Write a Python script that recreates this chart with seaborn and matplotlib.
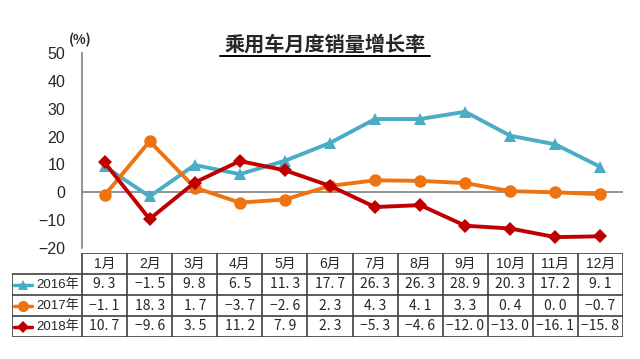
import numpy as np
import pandas as pd
import matplotlib
matplotlib.use("Agg")
import matplotlib.pyplot as plt
import seaborn as sns
from matplotlib.lines import Line2D

months = ["1月", "2月", "3月", "4月", "5月", "6月", "7月", "8月", "9月", "10月", "11月", "12月"]
years = ["2016年", "2017年", "2018年"]
v2016 = [9.3, -1.5, 9.8, 6.5, 11.3, 17.7, 26.3, 26.3, 28.9, 20.3, 17.2, 9.1]
v2017 = [-1.1, 18.3, 1.7, -3.7, -2.6, 2.3, 4.3, 4.1, 3.3, 0.4, 0.0, -0.7]
v2018 = [10.7, -9.6, 3.5, 11.2, 7.9, 2.3, -5.3, -4.6, -12.0, -13.0, -16.1, -15.8]
labels2016 = ["9.3", "-1.5", "9.8", "6.5", "11.3", "17.7", "26.3", "26.3", "28.9", "20.3", "17.2", "9.1"]
labels2017 = ["-1.1", "18.3", "1.7", "-3.7", "-2.6", "2.3", "4.3", "4.1", "3.3", "0.4", "0.0", "-0.7"]
labels2018 = ["10.7", "-9.6", "3.5", "11.2", "7.9", "2.3", "-5.3", "-4.6", "-12.0", "-13.0", "-16.1", "-15.8"]

colors = {"2016年": "#4BACC6", "2017年": "#EE7411", "2018年": "#C00000"}
markers = {"2016年": "^", "2017年": "o", "2018年": "D"}
msizes = {"2016年": 8, "2017年": 9, "2018年": 7}

df = pd.DataFrame({
    "m": list(range(12)) * 3,
    "value": v2016 + v2017 + v2018,
    "year": [y for y in years for _ in range(12)],
})

sns.set_style("white")
plt.rcParams["font.family"] = ["Liberation Sans", "Noto Sans CJK SC", "DejaVu Sans"]
cjk = ["Noto Sans CJK SC", "DejaVu Sans"]

W, H = 640, 359
fig = plt.figure(figsize=(6.4, 3.59), dpi=100)

def px(x0, y0, x1, y1):
    return [x0 / W, 1 - y1 / H, (x1 - x0) / W, (y1 - y0) / H]

ax = fig.add_axes(px(82, 53, 623, 248))
for yr in years:
    sub = df[df["year"] == yr]
    sns.lineplot(data=sub, x="m", y="value", color=colors[yr], marker=markers[yr],
                 markersize=msizes[yr], markeredgewidth=0, linewidth=2.8,
                 legend=False, ax=ax, zorder=3)
ax.axhline(0, color="#808080", lw=1.2, zorder=1)
ax.set_xlim(-0.5, 11.5)
ax.set_ylim(-20, 50)
ax.set_yticks(range(-20, 51, 10))
ax.set_xticks([])
ax.set_xlabel("")
ax.set_ylabel("")
for s in ["top", "right", "bottom"]:
    ax.spines[s].set_visible(False)
ax.spines["left"].set_color("#808080")
ax.spines["left"].set_linewidth(1.2)
ax.tick_params(axis="y", direction="in", length=5, width=1.2, color="#808080",
               labelsize=11.5, pad=12)
ax.set_yticklabels([str(t) if t >= 0 else "\u2212" + str(-t) for t in range(-20, 51, 10)])

fig.text(80 / W, 1 - 40 / H, "(%)", ha="center", va="center", fontsize=9.5,
         fontweight="bold", family=cjk)
fig.text(325 / W, 1 - 44 / H, "乘用车月度销量增长率", ha="center", va="center",
         fontsize=14.5, fontweight="bold", family=cjk)
fig.add_artist(Line2D([220 / W, 430 / W], [1 - 55.5 / H, 1 - 55.5 / H], color="black", lw=1.4))

# table
colw = (623 - 82) / 12
lab_w = 70 / colw
tax = fig.add_axes(px(12, 253, 623, 337))
tax.set_xlim(-0.5 - lab_w, 11.5)
tax.set_ylim(4, 0)
tax.axis("off")
lc = "#404040"
lw = 1.2
tax.plot([-0.5, 11.5], [0, 0], color=lc, lw=lw)
for r in [1, 2, 3, 4]:
    tax.plot([-0.5 - lab_w, 11.5], [r, r], color=lc, lw=lw)
tax.plot([-0.5 - lab_w, -0.5 - lab_w], [1, 4], color=lc, lw=lw)
for c in range(13):
    tax.plot([c - 0.5, c - 0.5], [0, 4], color=lc, lw=lw)

fs = 10
for i, mth in enumerate(months):
    tax.text(i, 0.5, mth, ha="center", va="center", fontsize=fs)
rows = [labels2016, labels2017, labels2018]
for r, (yr, labs) in enumerate(zip(years, rows)):
    yy = r + 1.5
    for i, t in enumerate(labs):
        t = t.replace("-", "\u2212").replace(".", ". ")
        tax.text(i, yy, t, ha="center", va="center", fontsize=fs, family=cjk)
    x0 = -0.5 - lab_w + 1.5 / colw
    tax.plot([x0, x0 + 18 / colw], [yy, yy], color=colors[yr], lw=2.5)
    tax.plot([x0 + 9 / colw], [yy], marker=markers[yr], color=colors[yr],
             markersize=msizes[yr] - 1, markeredgewidth=0)
    tax.text(-0.5 - 3 / colw, yy, yr, ha="right", va="center", fontsize=9.5)

fig.savefig("out.png", dpi=100)
